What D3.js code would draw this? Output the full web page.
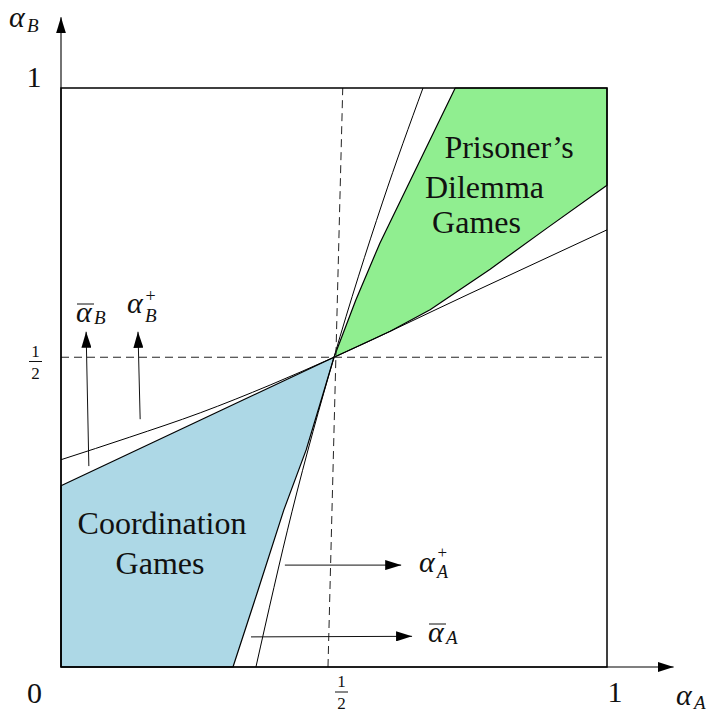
<!DOCTYPE html>
<html>
<head>
<meta charset="utf-8">
<script src="https://cdn.jsdelivr.net/npm/d3@7"></script>
<style>
  html, body { margin: 0; padding: 0; background: #fff; }
  svg { display: block; }
</style>
</head>
<body>
<svg id="chart" width="714" height="713" font-family="'Liberation Serif', 'DejaVu Serif', serif"></svg>
<script>
// ---- data (game-parameter space, alpha_A on x, alpha_B on y) ----
const equilibrium = [0.5, 0.535];

// Coordination games region (lower left)
const coordinationRegion = [
  [0, 0], [0, 0.313], [0.5, 0.535], [0.474, 0.453], [0.449, 0.375],
  [0.408, 0.271], [0.361, 0.133], [0.315, 0]
];
// Prisoner's dilemma region (upper right)
const dilemmaRegion = [
  [0.5, 0.535], [0.540, 0.634], [0.584, 0.732], [0.722, 1], [1, 1],
  [1, 0.832], [0.890, 0.758], [0.786, 0.687], [0.676, 0.617],
  [0.603, 0.580], [0.5, 0.535]
];
// threshold boundaries through the symmetric point
const boundaryB = [
  [0, 0.358], [0.126, 0.397], [0.255, 0.439], [0.383, 0.487],
  [0.5, 0.535], [0.749, 0.645], [1, 0.755]
];
const boundaryA = [
  [0.357, 0], [0.423, 0.268], [0.5, 0.535], [0.589, 0.803], [0.663, 1]
];
// dashed guides at one half
const guideVertical = [[0.489, 0], [0.516, 1]];
const guideHorizontal = [[0, 0.535], [1, 0.535]];

// direction arrows
const arrowBBar  = [[0.051, 0.347], [0.046, 0.579]];
const arrowBPlus = [[0.145, 0.428], [0.141, 0.579]];
const arrowAPlus = [[0.410, 0.176], [0.623, 0.176]];
const arrowABar  = [[0.348, 0.052], [0.643, 0.053]];

// tick labels
const cornerTicks = ["0", "1"];
const halfTick = ["1", "2"];
const regionLabels = [["Prisoner’s", "Dilemma", "Games"], ["Coordination", "Games"]];

// ---- drawing ----
const svg = d3.select("#chart");
const x = d3.scaleLinear().domain([0, 1]).range([61, 607]);
const y = d3.scaleLinear().domain([0, 1]).range([667, 88]);
const line = d3.line().x(d => x(d[0])).y(d => y(d[1]));
const smooth = d3.line().x(d => x(d[0])).y(d => y(d[1])).curve(d3.curveMonotoneX);

const defs = svg.append("defs");
defs.append("marker")
  .attr("id", "head")
  .attr("markerUnits", "userSpaceOnUse")
  .attr("markerWidth", 16).attr("markerHeight", 10)
  .attr("refX", 16).attr("refY", 5)
  .attr("orient", "auto")
  .append("path").attr("d", "M0,0 L16,5 L0,10 Z").attr("fill", "#000");

// filled regions
svg.append("path").datum(coordinationRegion)
  .attr("d", d => line(d) + "Z")
  .attr("fill", "#add8e6").attr("stroke", "#000").attr("stroke-width", 1.2)
  .attr("stroke-linejoin", "round");
svg.append("path").datum(dilemmaRegion)
  .attr("d", d => line(d) + "Z")
  .attr("fill", "#90ee90").attr("stroke", "#000").attr("stroke-width", 1.2)
  .attr("stroke-linejoin", "round");

// boundary curves
[boundaryB, boundaryA].forEach(c => {
  svg.append("path").datum(c).attr("d", smooth)
    .attr("fill", "none").attr("stroke", "#000").attr("stroke-width", 1);
});

// dashed guides
[guideVertical, guideHorizontal].forEach(g => {
  svg.append("path").datum(g).attr("d", line)
    .attr("fill", "none").attr("stroke", "#222").attr("stroke-width", 1)
    .attr("stroke-dasharray", "8,5");
});

// unit square frame
svg.append("rect")
  .attr("x", x(0)).attr("y", y(1))
  .attr("width", x(1) - x(0)).attr("height", y(0) - y(1))
  .attr("fill", "none").attr("stroke", "#000").attr("stroke-width", 1.5);

// axes with arrowheads
const axisReach = 1.122;
svg.append("path").datum([[0, 0], [axisReach, 0]]).attr("d", line)
  .attr("stroke", "#000").attr("stroke-width", 1.1).attr("marker-end", "url(#head)");
svg.append("path").datum([[0, 0], [0, axisReach]]).attr("d", line)
  .attr("stroke", "#000").attr("stroke-width", 1.1).attr("marker-end", "url(#head)");

// direction arrows
[arrowBBar, arrowBPlus, arrowAPlus, arrowABar].forEach(a => {
  svg.append("path").datum(a).attr("d", line)
    .attr("fill", "none").attr("stroke", "#111").attr("stroke-width", 1)
    .attr("marker-end", "url(#head)");
});

const ink = "#111";
// tick labels
const fs = 30;
svg.append("text").attr("x", 34.5).attr("y", 703).attr("text-anchor", "middle")
  .attr("font-size", fs).attr("fill", ink).text(cornerTicks[0]);
svg.append("text").attr("x", x(1) + 8).attr("y", 702).attr("text-anchor", "middle")
  .attr("font-size", fs).attr("fill", ink).text(cornerTicks[1]);
svg.append("text").attr("x", 34).attr("y", y(1) - 1).attr("text-anchor", "middle")
  .attr("font-size", fs).attr("fill", ink).text(cornerTicks[1]);

function fraction(cx, barY) {
  const g = svg.append("g").attr("fill", ink);
  g.append("text").attr("x", cx).attr("y", barY - 5).attr("text-anchor", "middle")
    .attr("font-size", 17).text(halfTick[0]);
  g.append("line").attr("x1", cx - 6.5).attr("x2", cx + 6.5)
    .attr("y1", barY).attr("y2", barY).attr("stroke", ink).attr("stroke-width", 1);
  g.append("text").attr("x", cx).attr("y", barY + 17).attr("text-anchor", "middle")
    .attr("font-size", 17).text(halfTick[1]);
}
fraction(35.5, 361.5);
fraction(341.5, 692);

// math symbols: alpha with sub/superscripts, optional bar
function mathLabel(px, sub, opts = {}) {
  const g = svg.append("g").attr("fill", ink);
  g.append("text").attr("x", px).attr("y", opts.baseY)
    .attr("font-size", fs).attr("font-style", "italic").text("α");
  g.append("text").attr("x", px + 18).attr("y", opts.baseY + (opts.subDrop || 3))
    .attr("font-size", opts.subSize || 19).attr("font-style", "italic").text(sub);
  if (opts.sup) {
    g.append("text").attr("x", px + 18.5).attr("y", opts.baseY - (opts.supRise || 11))
      .attr("font-size", opts.supSize || 18).text("+");
  }
  if (opts.bar) {
    g.append("line").attr("x1", px + 1).attr("x2", px + 18)
      .attr("y1", opts.baseY - 18).attr("y2", opts.baseY - 18)
      .attr("stroke", ink).attr("stroke-width", 1);
  }
}
mathLabel(9, "B", { baseY: 27, subDrop: 5 });
mathLabel(676, "A", { baseY: 705, subDrop: 4 });
mathLabel(76, "B", { baseY: 322, subDrop: 2, bar: true });
mathLabel(127, "B", { baseY: 313, subDrop: 9, sup: true });
mathLabel(419, "A", { baseY: 572, subDrop: 6, sup: true, supRise: 14, supSize: 17, subSize: 18 });
mathLabel(428, "A", { baseY: 642, subDrop: 2, bar: true });

// region names
const rfs = 32;
const pdLines = [[509, 158], [484.5, 198], [476.5, 233]];
regionLabels[0].forEach((t, i) => {
  svg.append("text").attr("x", pdLines[i][0]).attr("y", pdLines[i][1])
    .attr("text-anchor", "middle").attr("font-size", rfs).attr("fill", ink).text(t);
});
const cgLines = [[162, 534], [160, 574]];
regionLabels[1].forEach((t, i) => {
  svg.append("text").attr("x", cgLines[i][0]).attr("y", cgLines[i][1])
    .attr("text-anchor", "middle").attr("font-size", rfs).attr("fill", ink).text(t);
});
</script>
</body>
</html>
